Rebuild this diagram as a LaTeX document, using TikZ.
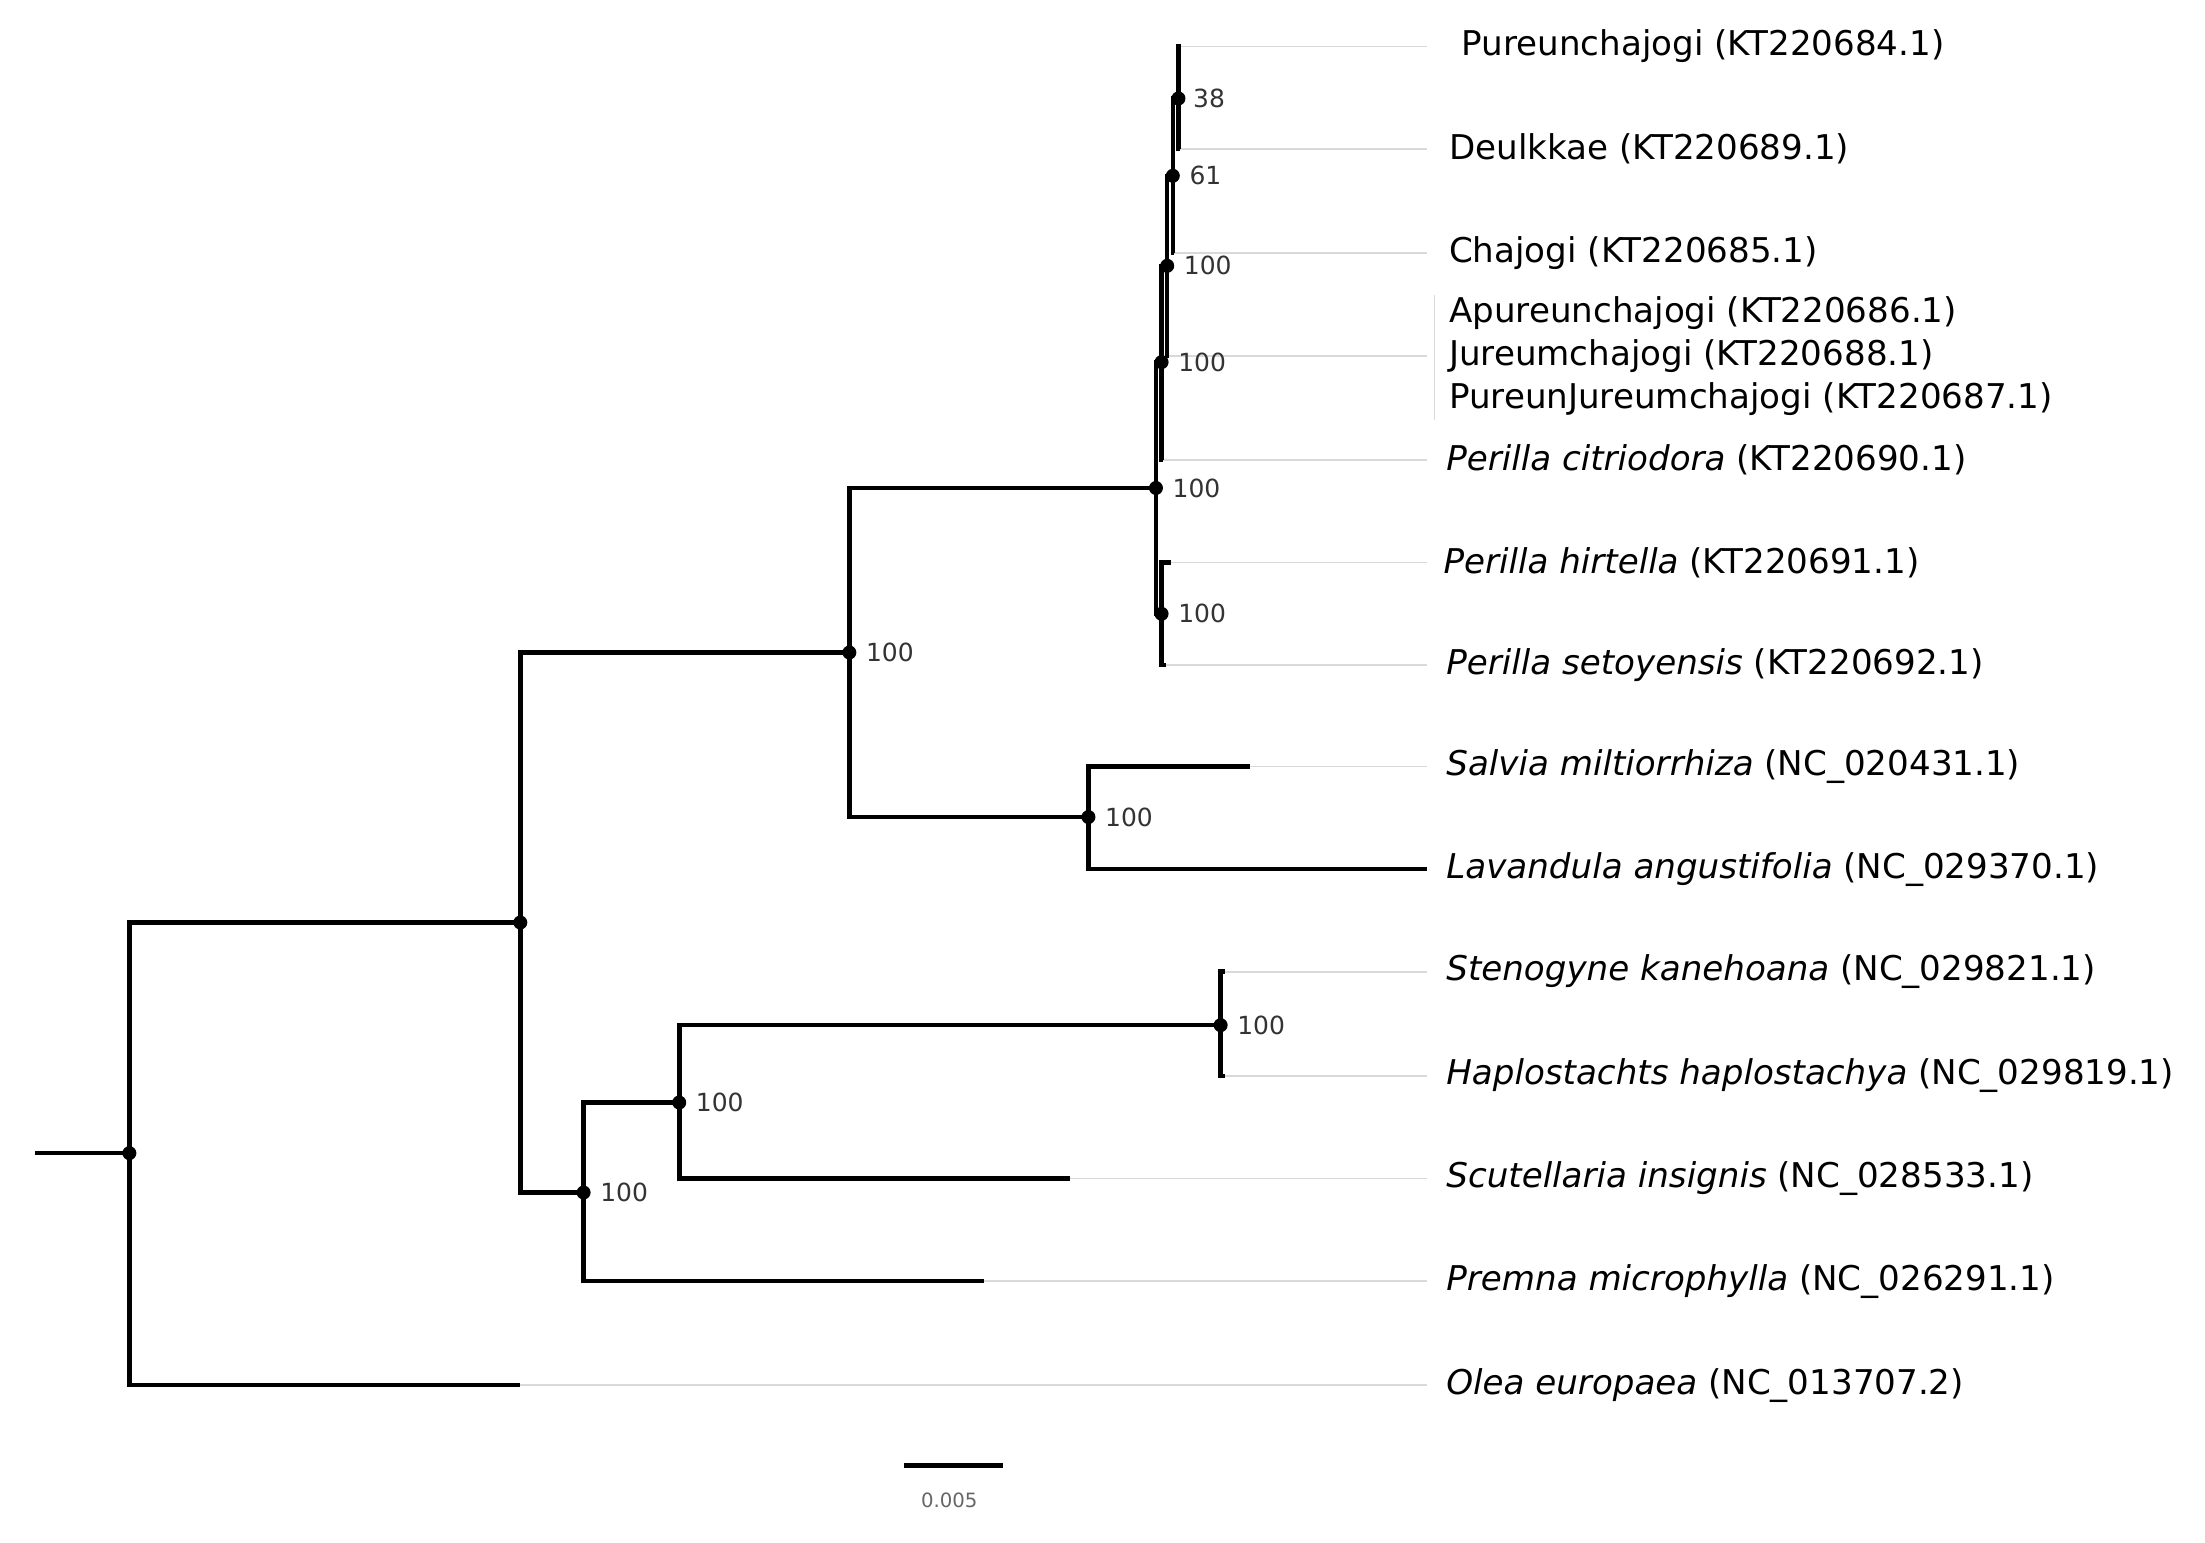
\documentclass[tikz,border=0pt]{standalone}
\usepackage{fontspec}
\setmainfont{DejaVu Sans}
\usetikzlibrary{positioning}

\begin{document}
\begin{tikzpicture}[x=0.01406cm, y=-0.01406cm,
    branch/.style={line width=1.3pt, draw=black},
    guide/.style={line width=0.45pt, draw=black!15},
    dot/.style={fill=black},
    taxon/.style={anchor=west, inner sep=0pt, font=\fontsize{9.7}{12.2}\selectfont, align=left},
    boot/.style={inner sep=0pt, font=\fontsize{7.1}{8}\selectfont, text=black!80},
    node distance=0.16cm]
\useasboundingbox (0,0) rectangle (1568,1097);
% internal nodes
\coordinate (stub) at (25,820);
\coordinate (n0) at (92,820);
\coordinate (n1) at (370,656);
\coordinate (n2) at (604,464);
\coordinate (n3) at (822,347);
\coordinate (n4) at (826,257.5);
\coordinate (n5) at (830,189);
\coordinate (n6) at (834,125);
\coordinate (n7) at (838,70);
\coordinate (n8) at (826,436.5);
\coordinate (n9) at (774,581);
\coordinate (n10) at (415,848);
\coordinate (n11) at (483,784);
\coordinate (n12) at (868,729);
% tips
\coordinate (t1) at (840,33);
\coordinate (t2) at (839,106);
\coordinate (t3) at (835,180);
\coordinate (t4) at (831,253);
\coordinate (t5) at (827,327);
\coordinate (t6) at (833,400);
\coordinate (t7) at (829,473);
\coordinate (t8) at (889,545);
\coordinate (t9) at (1015,618);
\coordinate (t10) at (871,691);
\coordinate (t11) at (871,765);
\coordinate (t12) at (761,838);
\coordinate (t13) at (700,911);
\coordinate (t14) at (370,985);
\coordinate (gx) at (1015,0);

\foreach \i in {1,...,14}
  \draw[guide] (t\i) -- (t\i -| gx);

\draw[branch] (stub) -- (n0);
\draw[branch] (n0) |- (n1);
\draw[branch] (n0) |- (t14);
\draw[branch] (n1) |- (n2);
\draw[branch] (n1) |- (n10);
\draw[branch] (n2) |- (n3);
\draw[branch] (n2) |- (n9);
\draw[branch] (n9) |- (t8);
\draw[branch] (n9) |- (t9);
\draw[branch] (n10) |- (n11);
\draw[branch] (n10) |- (t13);
\draw[branch] (n11) |- (n12);
\draw[branch] (n11) |- (t12);
\draw[branch] (n12) |- (t10);
\draw[branch] (n12) |- (t11);
\draw[branch] (n3) |- (n4);
\draw[branch] (n3) |- (n8);
\draw[branch] (n8) |- (t6);
\draw[branch] (n8) |- (t7);
\draw[branch] (n4) |- (n5);
\draw[branch] (n4) |- (t5);
\draw[branch] (n5) |- (n6);
\draw[branch] (n5) |- (t4);
\draw[branch] (n6) |- (n7);
\draw[branch] (n6) |- (t3);
\draw[branch] (n7) |- (t1);
\draw[branch] (n7) |- (t2);

\foreach \i in {0,...,12}
  \fill[dot] (n\i) circle[radius=0.07cm];

\node[boot, right=of n7, xshift=-0.02cm] (b7) {38};
\node[boot, right=of n6] (b6) {61};
\node[boot, right=of n5] (b5) {100};
\node[boot, right=of n4] (b4) {100};
\node[boot, right=of n3] (b3) {100};
\node[boot, right=of n8] (b8) {100};
\node[boot, right=of n2] (b2) {100};
\node[boot, right=of n9] (b9) {100};
\node[boot, right=of n12] (b12) {100};
\node[boot, right=of n11] (b11) {100};
\node[boot, right=of n10] (b10) {100};

\node[taxon] (l1) at (1039,33) {Pureunchajogi (KT220684.1)};
\node[taxon] (l2) at (1030,106) {Deulkkae (KT220689.1)};
\node[taxon] (l3) at (1030,180) {Chajogi (KT220685.1)};
\node[taxon] (l4) at (1030,253) {Apureunchajogi (KT220686.1)\\Jureumchajogi (KT220688.1)\\PureunJureumchajogi (KT220687.1)};
\coordinate (g0) at (1020,210);
\coordinate (g1) at (1020,299);
\draw[guide] (g0) -- (g1);
\node[taxon] (l5) at (1028,327) {\textit{Perilla citriodora} (KT220690.1)};
\node[taxon] (l6) at (1026,400) {\textit{Perilla hirtella} (KT220691.1)};
\node[taxon] (l7) at (1028,473) {\textit{Perilla setoyensis} (KT220692.1)};
\node[taxon] (l8) at (1028,545) {\textit{Salvia miltiorrhiza} (NC\_020431.1)};
\node[taxon] (l9) at (1028,618) {\textit{Lavandula angustifolia} (NC\_029370.1)};
\node[taxon] (l10) at (1028,691) {\textit{Stenogyne kanehoana} (NC\_029821.1)};
\node[taxon] (l11) at (1028,765) {\textit{Haplostachts haplostachya} (NC\_029819.1)};
\node[taxon] (l12) at (1028,838) {\textit{Scutellaria insignis} (NC\_028533.1)};
\node[taxon] (l13) at (1028,911) {\textit{Premna microphylla} (NC\_026291.1)};
\node[taxon] (l14) at (1028,985) {\textit{Olea europaea} (NC\_013707.2)};

% scale bar
\coordinate (s0) at (643,1042);
\coordinate (s1) at (713,1042);
\draw[branch] (s0) -- (s1);
\node[inner sep=0pt, font=\fontsize{5.6}{7}\selectfont, text=black!60] (scl) at (675,1067) {0.005};
\end{tikzpicture}
\end{document}
